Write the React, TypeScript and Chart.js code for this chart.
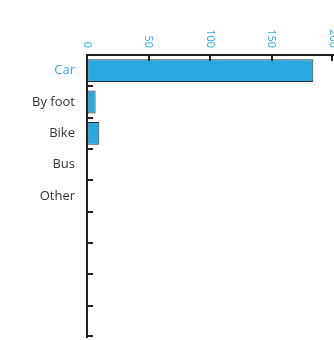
import React, { useEffect, useRef } from "react";
import { Chart, registerables } from "chart.js";

Chart.register(...registerables);

const categories = ["Car", "By foot", "Bike", "Bus", "Other", "", "", "", ""];
const values: (number | null)[] = [184, 7, 10, 0, 0, null, null, null, null];
const xMin = 0;
const xMax = 200;
const xStep = 50;

const BLUE = "#29a8e0";
const DARK = "#231f20";

const tickPlugin = {
  id: "innerTicks",
  afterDraw(chart: any) {
    const { ctx, chartArea } = chart;
    const xs = chart.scales.x;
    const ys = chart.scales.y;
    ctx.save();
    ctx.strokeStyle = DARK;
    ctx.lineWidth = 2;
    xs.ticks.forEach((t: any) => {
      const px = Math.round(xs.getPixelForValue(t.value)) + (t.value === xMax ? -1 : 0);
      if (t.value === xMin) return;
      ctx.beginPath();
      ctx.moveTo(px, chartArea.top);
      ctx.lineTo(px, chartArea.top + 6);
      ctx.stroke();
    });
    for (let i = 1; i <= categories.length; i++) {
      const py = Math.round(ys.getPixelForValue(i - 0.5)) - (i === categories.length ? 1 : 0);
      ctx.beginPath();
      ctx.moveTo(chartArea.left, py);
      ctx.lineTo(chartArea.left + 6, py);
      ctx.stroke();
    }
    ctx.fillStyle = BLUE;
    ctx.font = "11px 'Open Sans', sans-serif";
    ctx.textAlign = "right";
    ctx.textBaseline = "middle";
    xs.ticks.forEach((t: any) => {
      const px = xs.getPixelForValue(t.value);
      ctx.save();
      ctx.translate(px, chartArea.top - 7);
      ctx.rotate(Math.PI / 2);
      ctx.fillText(String(t.value), 0, 0);
      ctx.restore();
    });
    ctx.restore();
  },
};

export default function App() {
  const ref = useRef<HTMLCanvasElement>(null);
  useEffect(() => {
    document.body.style.margin = "0";
    const chart = new Chart(ref.current!, {
      type: "bar",
      data: {
        labels: categories,
        datasets: [
          {
            data: values,
            backgroundColor: BLUE,
            borderColor: "#2b2b2b",
            borderWidth: 1,
            borderSkipped: false,
            barPercentage: 0.73,
            categoryPercentage: 1,
          },
        ],
      },
      options: {
        indexAxis: "y",
        animation: false,
        responsive: true,
        maintainAspectRatio: false,
        layout: { padding: { top: 0, right: 1, bottom: 3, left: 0 } },
        plugins: { legend: { display: false }, tooltip: { enabled: false } },
        scales: {
          x: {
            position: "top",
            min: xMin,
            max: xMax,
            ticks: { display: false, stepSize: xStep },
            grid: { drawOnChartArea: false, drawTicks: false },
            border: { display: true, color: DARK, width: 2 },
            afterFit: (s: any) => {
              s.height = 55;
              s.paddingLeft = 0;
              s.paddingRight = 0;
            },
          },
          y: {
            type: "category",
            offset: true,
            ticks: {
              autoSkip: false,
              padding: 12,
              color: (c: any) => (c.index === 0 ? BLUE : "#333333"),
              font: { family: "'Open Sans', sans-serif", size: 13 },
            },
            grid: { drawOnChartArea: false, drawTicks: false, offset: true },
            border: { display: true, color: DARK, width: 2 },
            afterFit: (s: any) => {
              s.width = 87;
              s.paddingTop = 0;
              s.paddingBottom = 0;
            },
          },
        },
      },
      plugins: [tickPlugin],
    });
    return () => chart.destroy();
  }, []);
  return (
    <div style={{ width: 334, height: 340, position: "relative" }}>
      <canvas ref={ref} />
    </div>
  );
}
